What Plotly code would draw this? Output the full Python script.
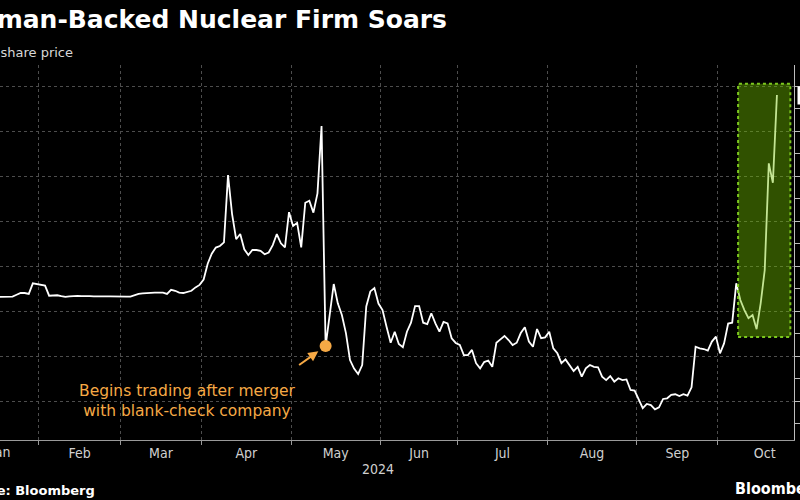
import pandas as pd
import plotly.graph_objects as go

# ---------------- data ----------------
holidays = ["2024-01-01", "2024-01-15", "2024-02-19", "2024-03-29",
            "2024-05-27", "2024-06-19", "2024-07-04", "2024-09-02"]
first_visible_day = "2024-01-17"
merger_day = "2024-05-13"
highlight_from = "2024-10-07"

prices = [
    10.62, 10.62, 10.62, 10.63, 10.64, 10.72, 10.80, 10.80, 10.76, 11.23, 11.20, 11.15, 11.13,
    10.68, 10.69, 10.70, 10.66, 10.63, 10.65, 10.67, 10.67, 10.66, 10.67, 10.66, 10.65, 10.64,
    10.64, 10.65, 10.65, 10.64, 10.64, 10.64, 10.64, 10.64,
    10.70, 10.76, 10.78, 10.80, 10.81, 10.82, 10.82, 10.82, 10.76, 10.94, 10.90, 10.82, 10.80,
    10.86, 10.90, 11.05, 11.16,
    11.40, 12.10, 12.55, 12.82, 12.89, 13.05, 16.04, 14.30, 13.19, 13.42, 12.74, 12.49, 12.71,
    12.71, 12.67, 12.52, 12.60, 12.93, 13.42, 13.01, 12.83, 14.39, 13.78, 13.92, 12.83, 14.81,
    14.90, 14.37, 15.23, 18.22,
    8.44, 9.82, 11.20, 10.34, 9.82, 9.02, 7.82, 7.44, 7.20, 7.60, 10.20, 10.87, 11.02, 10.33,
    10.04, 9.29, 8.59, 9.08, 8.53, 8.39,
    9.08, 9.48, 10.22, 10.22, 9.48, 9.42, 9.90, 9.45, 9.08, 9.52, 9.45, 8.79, 8.58, 8.49, 8.04,
    8.04, 8.27, 7.68, 7.45, 7.73,
    7.80, 7.52, 8.59, 8.74, 8.89, 8.71, 8.49, 8.59, 9.02, 9.28, 8.64, 8.41, 9.20, 8.79, 8.83,
    9.08, 8.34, 8.12, 7.68, 7.85,
    7.56, 7.33, 7.52, 7.08, 7.45, 7.60, 7.52, 7.50, 7.08, 6.93, 7.11, 6.86, 7.01, 6.93, 6.96,
    6.49, 6.46, 6.04, 5.68, 5.87,
    5.82, 5.63, 5.72, 6.09, 6.12, 6.27, 6.30, 6.22, 6.30, 6.24, 6.61, 8.41, 8.34, 8.31, 8.24,
    8.64, 8.86, 8.12, 8.56, 9.44,
    9.48, 11.23, 10.49, 10.04, 9.68, 9.82, 9.19, 10.34, 11.82, 16.56, 15.70, 19.60,
]
month_labels = ["Jan", "Feb", "Mar", "Apr", "May", "Jun", "Jul", "Aug", "Sep", "Oct"]
year_label = "2024"
title_text = "Altman-Backed Nuclear Firm Soars"
subtitle_text = "Oklo share price"
note_text = "Begins trading after merger<br>with blank-check company"
source_text = "Source: Bloomberg"

# ---------------- trading-day axis ----------------
cal = pd.bdate_range("2024-01-02", "2024-10-31", freq="C", holidays=holidays)
pos = {d: i for i, d in enumerate(cal)}
dates = pd.bdate_range(first_visible_day, periods=len(prices), freq="C", holidays=holidays)
x = [pos[d] for d in dates]

month_start = []
for m in range(1, 11):
    idx = [i for i, d in enumerate(cal) if d.month == m]
    month_start.append(idx[0] - 0.5)
month_end = month_start[1:] + [len(cal) - 0.5]
month_mid = [(a + b) / 2 for a, b in zip(month_start, month_end)]

PX_PER_DAY = 4.066
PLOT_W = 794
X0 = 44.4 / PX_PER_DAY
x_range = [X0, X0 + PLOT_W / PX_PER_DAY]
y_range = [20 - 354 / 22.5, 20 + 21 / 22.5]


def x_to_paper(v):
    return (v - x_range[0]) / (x_range[1] - x_range[0])


ORANGE = "#f6a945"
BG = "#000000"
AXIS_FONT = "DejaVu Sans Condensed, Liberation Sans Narrow, DejaVu Sans"

fig = go.Figure()

# price line
fig.add_trace(go.Scatter(x=x, y=prices, mode="lines",
                         line=dict(color="#ffffff", width=1.8),
                         customdata=[d.strftime("%Y-%m-%d") for d in dates],
                         hovertemplate="%{customdata}: %{y:.2f}<extra></extra>",
                         showlegend=False))

# merger dot
mi = list(dates).index(pd.Timestamp(merger_day))
fig.add_trace(go.Scatter(x=[x[mi]], y=[prices[mi]], mode="markers",
                         marker=dict(color=ORANGE, size=12),
                         hoverinfo="skip", showlegend=False))

# highlight box
hi = list(dates).index(pd.Timestamp(highlight_from))
seg = prices[hi:]
fig.add_shape(type="rect", xref="x", yref="y",
              x0=x[hi] + 0.45, x1=x[-1] + 3.3,
              y0=min(seg) - 0.35, y1=max(seg) + 0.5,
              fillcolor="rgba(115,192,0,0.42)",
              line=dict(color="#7cc81e", width=2, dash="dot"),
              layer="above")

fig.update_layout(
    width=800, height=500,
    paper_bgcolor=BG, plot_bgcolor=BG,
    margin=dict(l=0, r=6, t=65, b=60),
    font=dict(family="DejaVu Sans", color="#ffffff"),
    title=dict(text="<b>" + title_text + "</b>", xref="container", yref="container",
               x=447 / 800, xanchor="right", y=1 - 19 / 500, yanchor="middle",
               font=dict(size=25, color="#ffffff", family="DejaVu Sans")),
    xaxis=dict(range=x_range, tickmode="array",
               tickvals=month_mid[1:], ticktext=month_labels[1:],
               showgrid=False, ticks="", zeroline=False,
               showline=True, linecolor="#9a9a9a", linewidth=1,
               tickfont=dict(size=14, color="#d0d0d0", family=AXIS_FONT),
               minor=dict(tickmode="array", tickvals=month_start, showgrid=True,
                          gridcolor="#4d4d4d", griddash="dot", gridwidth=1,
                          ticks="outside", ticklen=4, tickcolor="#9a9a9a"),
               fixedrange=True),
    yaxis=dict(range=y_range, side="right", dtick=2, tick0=0,
               showgrid=True, gridcolor="#4d4d4d", griddash="dot", gridwidth=1,
               zeroline=False, showline=True, linecolor="#bdbdbd", linewidth=1,
               ticks="outside", ticklen=5, tickcolor="#bdbdbd",
               showticklabels=False,
               minor=dict(dtick=1, tick0=0, ticks="outside", ticklen=5,
                          tickcolor="#bdbdbd", showgrid=False),
               fixedrange=True),
    hovermode="closest",
)


def paper_y(py):
    return (440 - py) / 375.0


anns = [
    dict(text=subtitle_text, xref="paper", yref="paper", x=75 / PLOT_W, y=paper_y(52),
         xanchor="right", yanchor="middle", showarrow=False,
         font=dict(size=13, color="#d8d8d8", family="DejaVu Sans")),
    # first month label, partly beyond the left edge
    dict(text=month_labels[0], xref="paper", yref="paper", x=x_to_paper(month_mid[0]),
         y=paper_y(452), xanchor="center", yanchor="middle", showarrow=False, xshift=4,
         font=dict(size=14, color="#d0d0d0", family=AXIS_FONT)),
    dict(text=year_label, xref="paper", yref="paper", x=378 / PLOT_W, y=paper_y(469),
         xanchor="center", yanchor="middle", showarrow=False,
         font=dict(size=14, color="#d0d0d0", family=AXIS_FONT)),
    dict(text="<b>" + source_text + "</b>", xref="paper", yref="paper", x=97 / PLOT_W,
         y=paper_y(490), xanchor="right", yanchor="middle", showarrow=False,
         font=dict(size=13, color="#ffffff", family="DejaVu Sans")),
    dict(text="<b>Bloomberg</b>", xref="paper", yref="paper", x=733 / PLOT_W,
         y=paper_y(488), xanchor="left", yanchor="middle", showarrow=False,
         font=dict(size=16, color="#ffffff", family="DejaVu Sans Condensed, DejaVu Sans")),
    # note text
    dict(text=note_text, xref="x", yref="y", x=(187 + 44.4) / PX_PER_DAY,
         y=20 - (401 - 86) / 22.5, xanchor="center", yanchor="middle",
         showarrow=False, align="center",
         font=dict(size=15.5, color=ORANGE, family="DejaVu Sans")),
    # arrow
    dict(text="", xref="x", yref="y", x=x[mi], y=prices[mi], ax=-28, ay=20,
         showarrow=True, arrowhead=2, arrowsize=1, arrowwidth=2, arrowcolor=ORANGE,
         standoff=9),
    # last value tag (clipped by edge)
    dict(text="%.2f" % prices[-1], xref="paper", yref="y", x=1, y=prices[-1],
         xanchor="left", yanchor="middle", xshift=3, showarrow=False,
         bgcolor="#ffffff", font=dict(size=13, color="#000000")),
]
fig.update_layout(annotations=anns)

fig.write_html("out.html",
               config={"displayModeBar": False},
               post_script="document.body.style.margin='0';document.body.style.overflow='hidden';")
